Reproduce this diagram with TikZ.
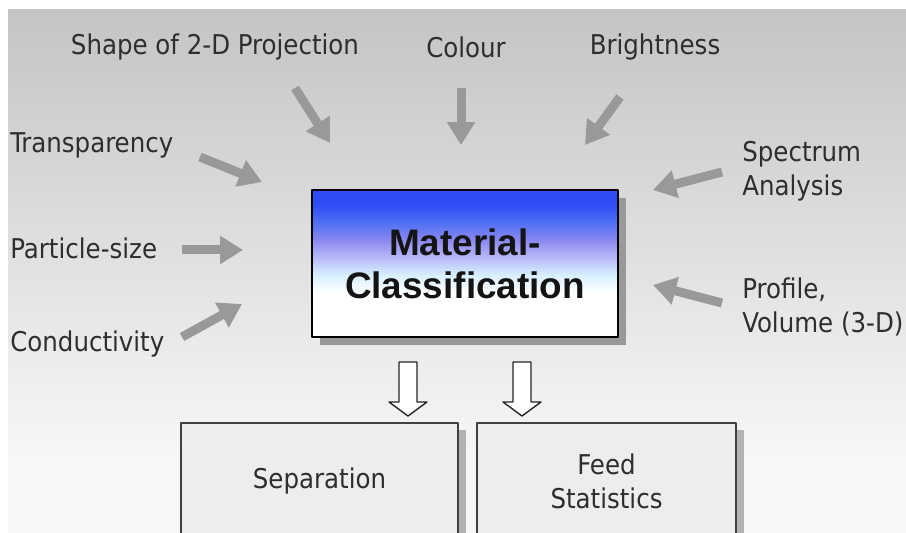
\documentclass[tikz,border=0pt]{standalone}
\usepackage{fontspec}
\setmainfont{DejaVu Sans Condensed}
\newfontfamily\headfont{Liberation Sans}
\usetikzlibrary{arrows.meta,shadows}
\definecolor{matA}{HTML}{2F4CF5}
\definecolor{matB}{HTML}{4F70F2}
\definecolor{matC}{HTML}{8A88F0}
\definecolor{matD}{HTML}{B8BAF8}
\definecolor{matE}{HTML}{D8F0FF}
\pgfdeclareverticalshading{matshade}{100bp}{color(0bp)=(white); color(40bp)=(white);
  color(46bp)=(matE); color(52bp)=(matD); color(58bp)=(matC); color(64bp)=(matB);
  color(70bp)=(matA); color(100bp)=(matA)}
\begin{document}
\begin{tikzpicture}[x=0.02cm,y=-0.02cm,line join=round,
  lbl/.style={font=\fontsize{15.5}{19.5}\selectfont,text=black!82,inner sep=0pt,align=left},
  cue/.style={draw=black!40,line width=0.18cm,-{Triangle[width=0.54cm,length=0.46cm]}},
  matbox/.style={draw=black,line width=1pt,shading=matshade,minimum width=6.12cm,minimum height=2.94cm,
    font=\headfont\bfseries\fontsize{21}{24.5}\selectfont,text=black!92,align=center,
    drop shadow={shadow xshift=0.16cm,shadow yshift=-0.16cm,fill=black!40,opacity=1}},
  outbox/.style={draw=black!75,line width=0.9pt,fill=black!7,minimum height=2.32cm,
    font=\fontsize{15.5}{19.5}\selectfont,text=black!82,align=center,
    drop shadow={shadow xshift=0.16cm,shadow yshift=-0.14cm,fill=black!30,opacity=1}}]
\useasboundingbox (0,0) rectangle (906,533);
\clip (0,0) rectangle (906,533);
\fill[white] (0,0) rectangle (906,533);
\shade[top color=black!23,bottom color=black!3] (8,10) rectangle (906,460);
\fill[black!3] (8,459) rectangle (906,533);

\node[matbox] (mat) at (465,263.5) {Material-\\Classification};
\node[outbox,minimum width=5.54cm] (sep) at (319.5,481) {Separation};
\node[outbox,minimum width=5.18cm] (stat) at (606.5,481) {Feed\\Statistics};

\node[lbl] (shape) at (215,47) {Shape of 2-D Projection};
\node[lbl] (col) at (466,47) {Colour};
\node[lbl] (bri) at (655,47) {Brightness};
\node[lbl,anchor=west] (tra) at (10,145) {Transparency};
\node[lbl,anchor=west] (par) at (10,248) {Particle-size};
\node[lbl,anchor=west] (con) at (10,344) {Conductivity};
\node[lbl,anchor=west] (spe) at (742,171) {Spectrum\\Analysis};
\node[lbl,anchor=west] (pro) at (742,307) {Profile,\\Volume (3-D)};

\path (295,88) coordinate (p1) (330,143) coordinate (q1)
  (461,88) coordinate (p2) (461,145) coordinate (q2)
  (620,97) coordinate (p3) (585,145) coordinate (q3)
  (200,157) coordinate (p4) (262,182) coordinate (q4)
  (182,250) coordinate (p5) (243,250) coordinate (q5)
  (182,337) coordinate (p6) (242,304) coordinate (q6)
  (722,172) coordinate (p7) (653,190) coordinate (q7)
  (722,303) coordinate (p8) (653,285) coordinate (q8);
\foreach \i in {1,...,8}
  \draw[cue] (p\i) -- (q\i);

\foreach \x in {408,522}
  \draw[draw=black!85,fill=white,line width=0.8pt]
    (\x-9,362) -- (\x+9,362) -- (\x+9,402) -- (\x+19,402) -- (\x,416)
    -- (\x-19,402) -- (\x-9,402) -- cycle;
\end{tikzpicture}
\end{document}
